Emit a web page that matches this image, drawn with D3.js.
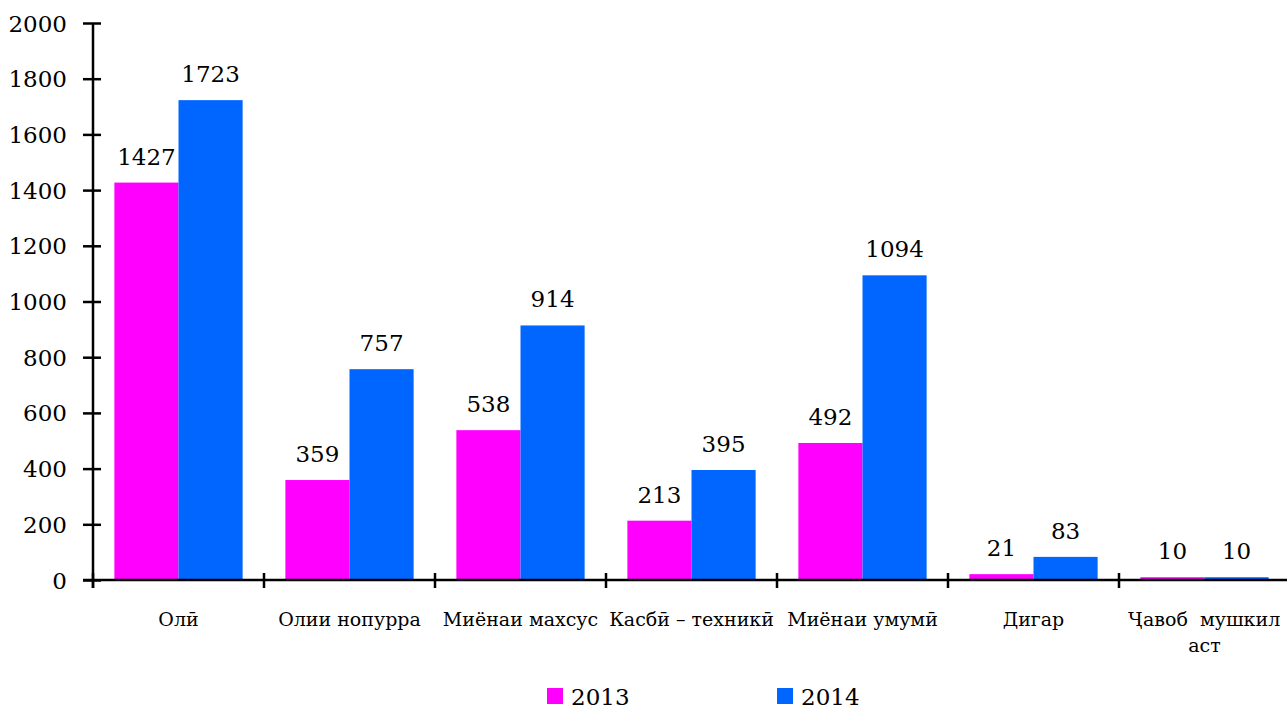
<!DOCTYPE html>
<html>
<head>
<meta charset="utf-8">
<script src="https://cdn.jsdelivr.net/npm/d3@7"></script>
<style>
  body { margin: 0; background: #fff; }
</style>
</head>
<body>
<div id="chart"></div>
<script>
// data
var categories = ["Олӣ", "Олии нопурра", "Миёнаи махсус", "Касбӣ – техникӣ", "Миёнаи умумӣ", "Дигар", "Ҷавоб  мушкил аст"];
var series = ["2013", "2014"];
var values2013 = [1427, 359, 538, 213, 492, 21, 10];
var values2014 = [1723, 757, 914, 395, 1094, 83, 10];
var yTicks = [0, 200, 400, 600, 800, 1000, 1200, 1400, 1600, 1800, 2000];
var colors = ["#FF00FF", "#0066FF"];

var FONT = "'DejaVu Serif', 'Liberation Serif', serif";
var width = 1287, height = 710;
var margin = { top: 23, left: 93 };
var plotRight = 1290;
var plotBottom = 580;

var svg = d3.select("#chart").append("svg")
  .attr("width", width)
  .attr("height", height)
  .style("font-family", FONT);

var x = d3.scaleBand()
  .domain(categories)
  .range([margin.left, plotRight]);

var y = d3.scaleLinear()
  .domain([0, 2000])
  .range([plotBottom, margin.top]);

var barW = x.bandwidth() * 0.375;
var groupOff = x.bandwidth() * 0.125;

var rows = categories.map(function (c, i) {
  return { cat: c, vals: [values2013[i], values2014[i]] };
});

// bars
var groups = svg.selectAll(".grp")
  .data(rows)
  .enter().append("g")
  .attr("class", "grp")
  .attr("transform", function (d) { return "translate(" + (x(d.cat) + groupOff) + ",0)"; });

groups.selectAll("rect")
  .data(function (d) { return d.vals; })
  .enter().append("rect")
  .attr("x", function (d, i) { return i * barW; })
  .attr("y", function (d) { return y(d); })
  .attr("width", barW)
  .attr("height", function (d) { return y(0) - y(d); })
  .attr("fill", function (d, i) { return colors[i]; });

// value labels
groups.selectAll(".val")
  .data(function (d) { return d.vals; })
  .enter().append("text")
  .attr("class", "val")
  .attr("x", function (d, i) { return i * barW + barW / 2; })
  .attr("y", function (d) { return y(d) - 18; })
  .attr("text-anchor", "middle")
  .style("font-family", FONT)
  .style("font-size", "23px")
  .text(function (d) { return d; });

// y axis
var yAxis = svg.append("g")
  .attr("transform", "translate(" + margin.left + ",0)")
  .call(d3.axisLeft(y).tickValues(yTicks).tickFormat(d3.format("d")).tickSize(10).tickPadding(16));
yAxis.selectAll(".tick line").attr("x2", 8).attr("x1", -10);
yAxis.select(".domain").remove();
yAxis.append("line")
  .attr("x1", 0).attr("x2", 0)
  .attr("y1", y(2000)).attr("y2", y(0) + 8);
yAxis.selectAll("line").attr("stroke", "#000").attr("stroke-width", 2.5);
yAxis.selectAll(".tick text")
  .style("font-family", FONT)
  .style("font-size", "23px")
  .attr("dy", "0.35em")
  .attr("fill", "#000");

// x axis line and category ticks
var xAxis = svg.append("g");
xAxis.append("line")
  .attr("x1", margin.left - 10).attr("x2", plotRight)
  .attr("y1", y(0)).attr("y2", y(0))
  .attr("stroke", "#000").attr("stroke-width", 2.5);
var bounds = categories.map(function (c) { return x(c); }).concat([plotRight]);
xAxis.selectAll(".ctick")
  .data(bounds)
  .enter().append("line")
  .attr("class", "ctick")
  .attr("x1", function (d) { return d; }).attr("x2", function (d) { return d; })
  .attr("y1", y(0) - 7).attr("y2", y(0) + 8)
  .attr("stroke", "#000").attr("stroke-width", 2.5);

// category labels (last one wraps)
var catLines = {
  "Ҷавоб  мушкил аст": ["Ҷавоб  мушкил", "аст"]
};
categories.forEach(function (c) {
  var lines = catLines[c] || [c];
  var t = svg.append("text")
    .attr("x", x(c) + x.bandwidth() / 2)
    .attr("y", 626)
    .attr("text-anchor", "middle")
    .style("font-family", FONT)
    .style("font-size", "19px")
    .style("white-space", "pre");
  lines.forEach(function (l, i) {
    t.append("tspan")
      .attr("x", x(c) + x.bandwidth() / 2)
      .attr("dy", i === 0 ? 0 : 26)
      .text(l);
  });
});

// legend
var legendX = [547, 777];
var legend = svg.selectAll(".leg")
  .data(series)
  .enter().append("g")
  .attr("class", "leg")
  .attr("transform", function (d, i) { return "translate(" + legendX[i] + ",688)"; });
legend.append("rect")
  .attr("width", 16).attr("height", 16)
  .attr("fill", function (d, i) { return colors[i]; });
legend.append("text")
  .attr("x", 24).attr("y", 17)
  .style("font-family", FONT)
  .style("font-size", "23px")
  .text(function (d) { return d; });
</script>
</body>
</html>
